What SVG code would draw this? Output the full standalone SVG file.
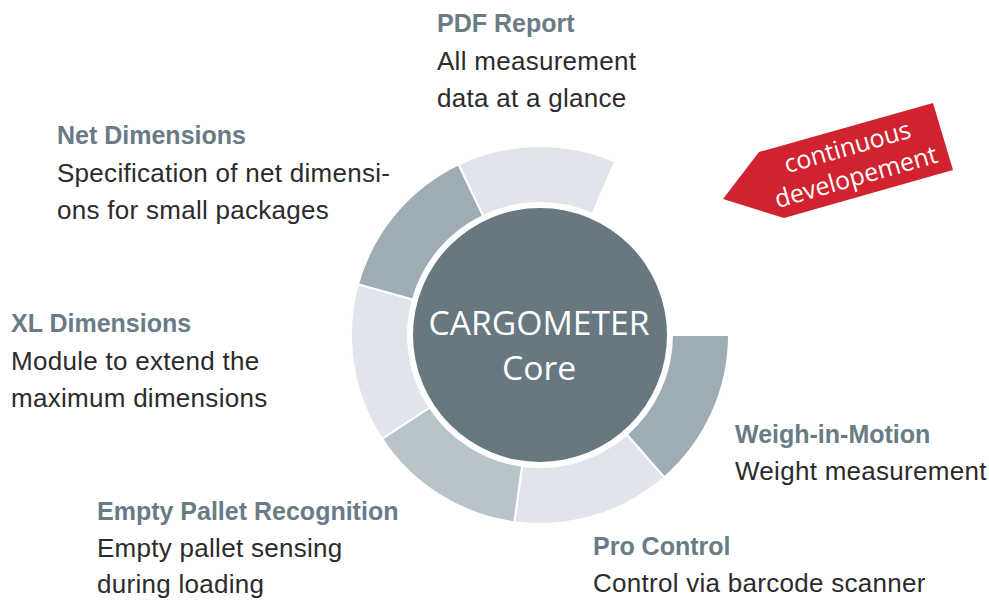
<svg xmlns="http://www.w3.org/2000/svg" width="989" height="602" viewBox="0 0 989 602">
<style>
.seg{stroke:#ffffff;stroke-width:2;stroke-linejoin:miter}
.light{fill:#e1e4eb}
.mid{fill:#9eadb5}
.pale{fill:#b9c4ca}
.t{font-family:"Liberation Sans",Arial,sans-serif;font-weight:bold;font-size:25px;fill:#697b85}
.b{font-family:"Liberation Sans",Arial,sans-serif;font-size:26px;letter-spacing:0.28px;fill:#2b2b2b}
.core{font-family:"Open Sans","Liberation Sans",sans-serif;font-size:33.7px;fill:#ffffff;text-anchor:middle}
.red{font-family:"Open Sans","Liberation Sans",sans-serif;font-size:25px;fill:#ffffff;text-anchor:middle}
</style>
<rect width="989" height="602" fill="#ffffff"/>
<g id="ring">
<path id="seg-weigh" class="seg mid" d="M729,335 A189,189 0 0 1 664.25,477.43 L626.78,434.48 A132,132 0 0 0 672,335 Z"/>
<path id="seg-pro" class="seg light" d="M664.25,477.43 A189,189 0 0 1 514.35,522.24 L522.09,465.77 A132,132 0 0 0 626.78,434.48 Z"/>
<path id="seg-empty" class="seg pale" d="M514.35,522.24 A189,189 0 0 1 382.03,438.76 L429.67,407.47 A132,132 0 0 0 522.09,465.77 Z"/>
<path id="seg-xl" class="seg light" d="M382.03,438.76 A189,189 0 0 1 357.96,284.18 L412.86,299.51 A132,132 0 0 0 429.67,407.47 Z"/>
<path id="seg-net" class="seg mid" d="M357.96,284.18 A189,189 0 0 1 458.64,164.41 L483.17,215.86 A132,132 0 0 0 412.86,299.51 Z"/>
<path id="seg-pdf" class="seg light" d="M458.64,164.41 A189,189 0 0 1 615.05,161.54 L592.42,213.85 A132,132 0 0 0 483.17,215.86 Z"/>
</g>
<g id="core">
<circle cx="540" cy="335" r="127" fill="#677881"/>
<text class="core" x="539" y="335">CARGOMETER</text>
<text class="core" x="539" y="380">Core</text>
</g>
<g id="continuous">
<polygon points="723,199 759,152 933,103 953,170 784,218" fill="#d0232f"/>
<g transform="translate(852,163) rotate(-16)">
<text class="red" x="0" y="-8">continuous</text>
<text class="red" x="0" y="23">developement</text>
</g>
</g>
<g id="pdf-report">
<text class="t" x="437" y="32">PDF Report</text>
<text class="b" x="437" y="70">All measurement</text>
<text class="b" x="437" y="107">data at a glance</text>
</g>
<g id="net-dimensions">
<text class="t" x="57" y="144">Net Dimensions</text>
<text class="b" x="57" y="182">Specification of net dimensi-</text>
<text class="b" x="57" y="219">ons for small packages</text>
</g>
<g id="xl-dimensions">
<text class="t" x="11" y="332">XL Dimensions</text>
<text class="b" x="11" y="370">Module to extend the</text>
<text class="b" x="11" y="407">maximum dimensions</text>
</g>
<g id="empty-pallet">
<text class="t" x="97" y="520">Empty Pallet Recognition</text>
<text class="b" x="97" y="557">Empty pallet sensing</text>
<text class="b" x="97" y="593">during loading</text>
</g>
<g id="weigh-in-motion">
<text class="t" x="735" y="443">Weigh-in-Motion</text>
<text class="b" x="735" y="480">Weight measurement</text>
</g>
<g id="pro-control">
<text class="t" x="593" y="555">Pro Control</text>
<text class="b" x="593" y="592">Control via barcode scanner</text>
</g>
</svg>
